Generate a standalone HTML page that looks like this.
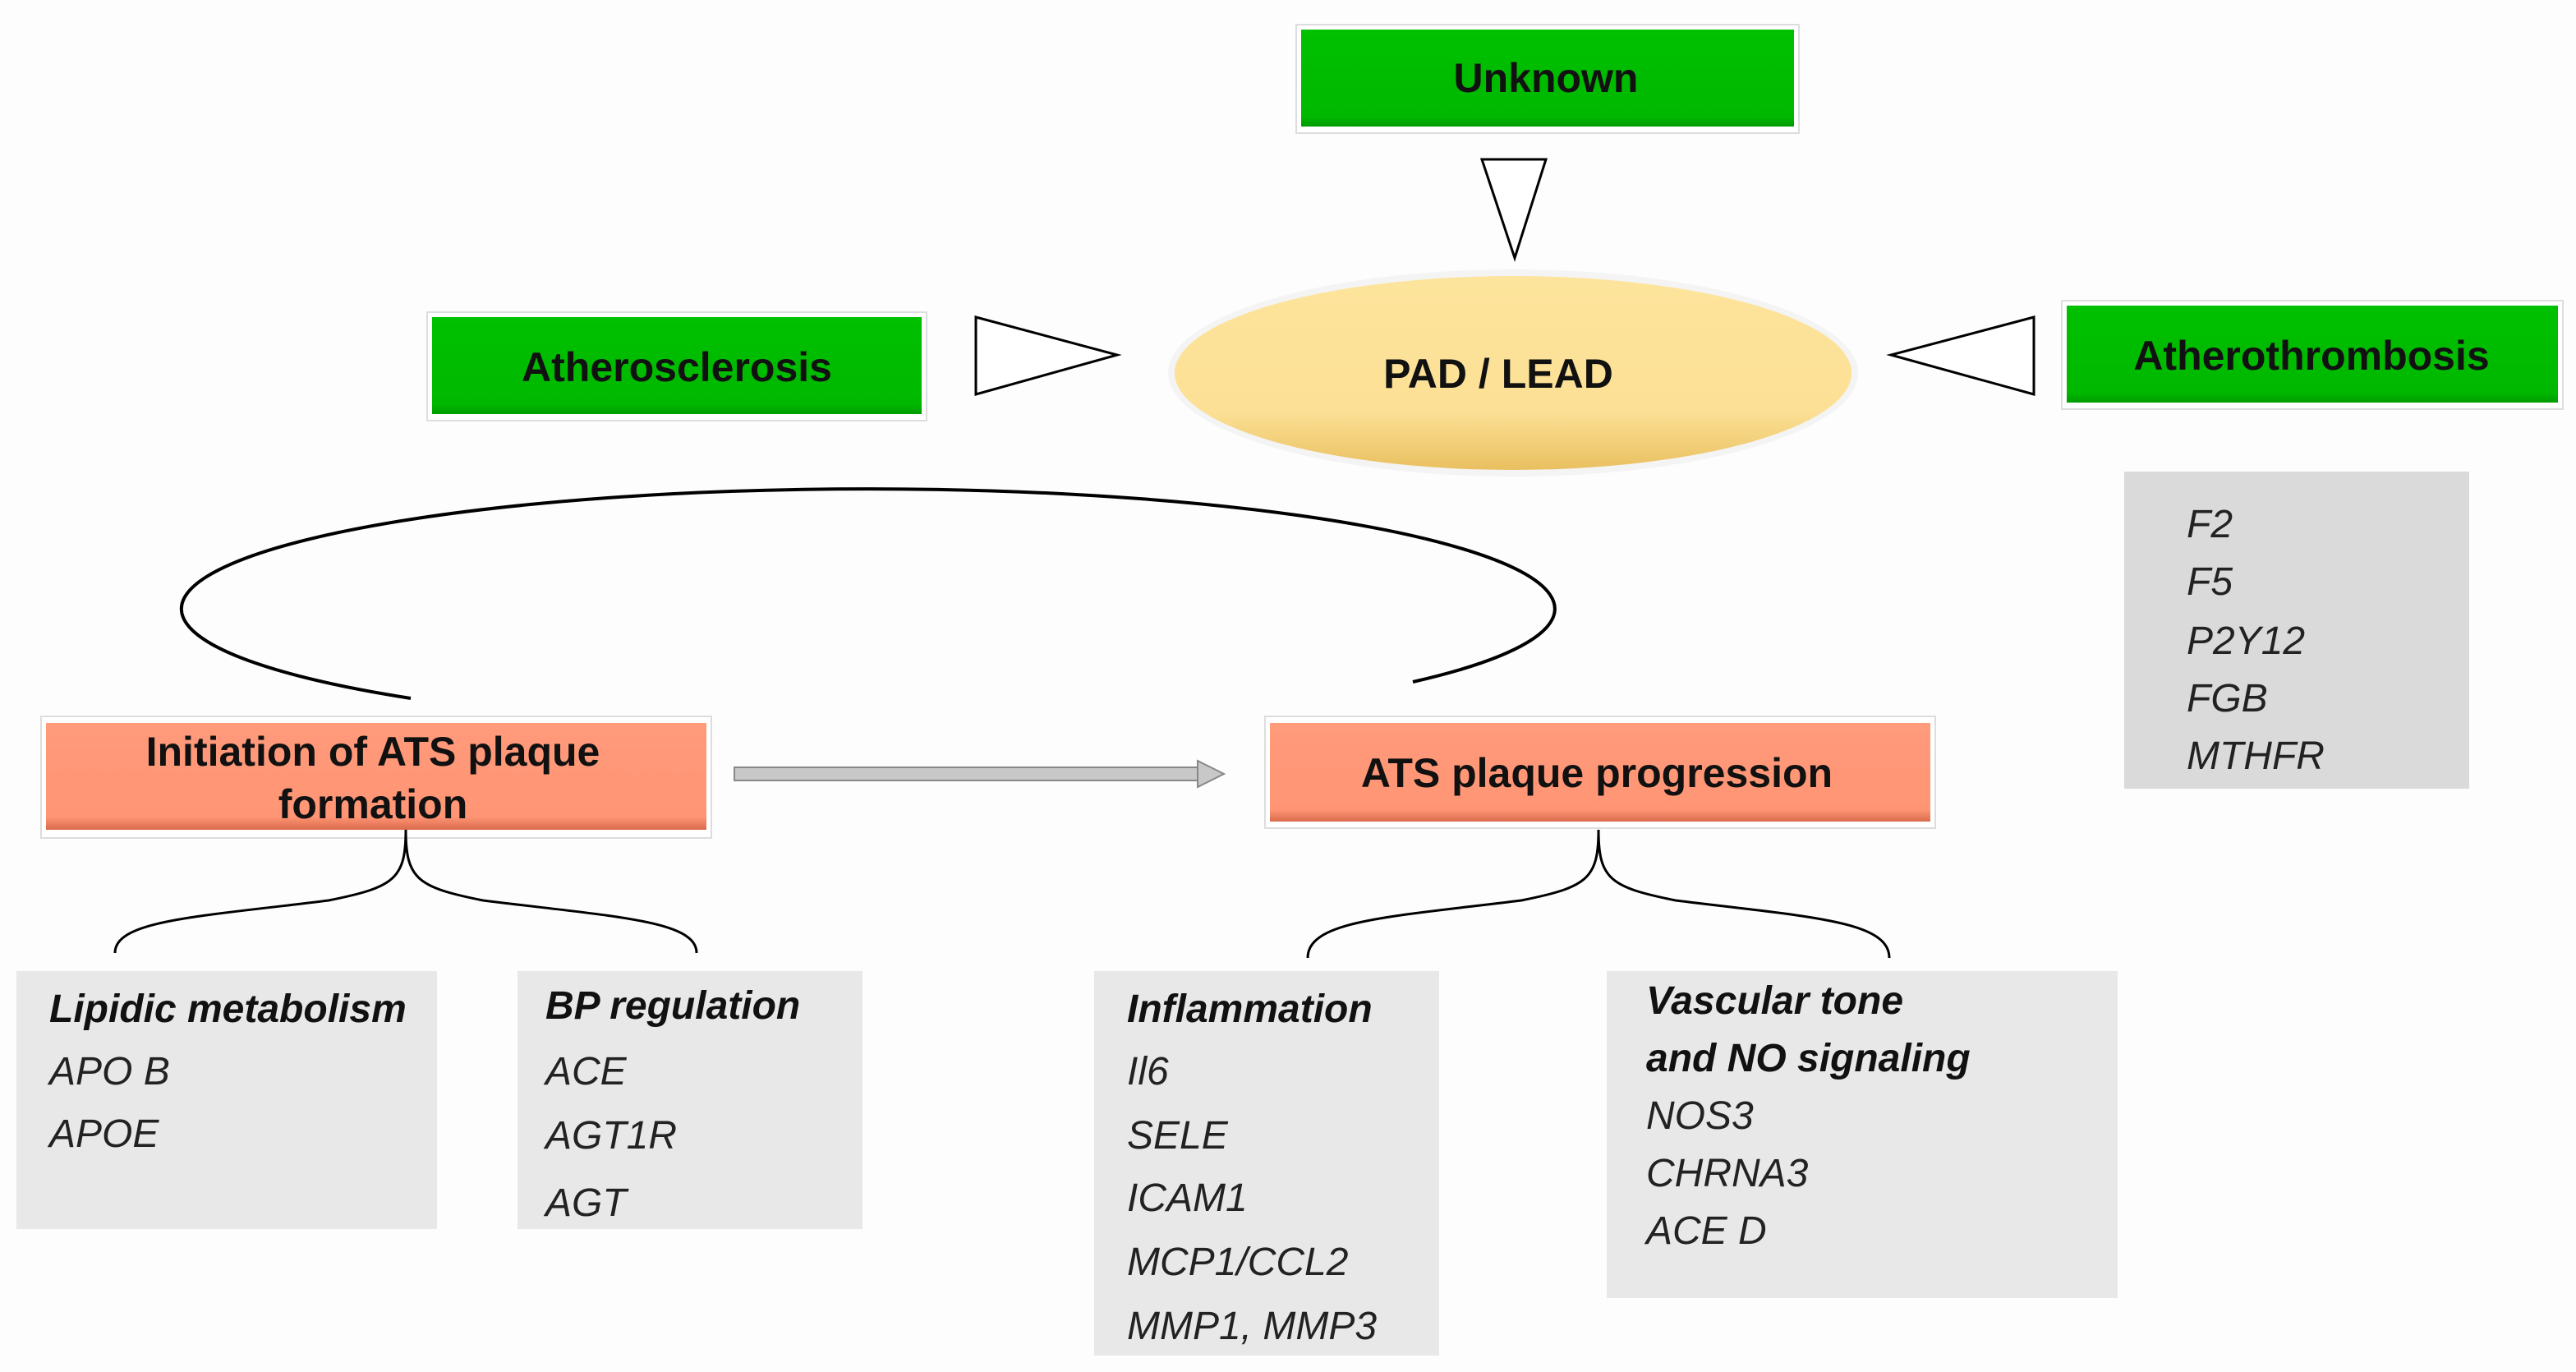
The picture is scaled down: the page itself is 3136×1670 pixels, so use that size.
<!DOCTYPE html>
<html><head><style>
html,body{margin:0;padding:0;background:#fff;}
svg{display:block;}
text{font-family:"Liberation Sans",Arial,sans-serif;}
.b{font-weight:bold;font-size:25px;fill:#111;}
.i{font-style:italic;font-size:24px;fill:#222;}
.bi{font-style:italic;font-weight:bold;font-size:24px;fill:#111;}
</style></head><body>
<svg width="3136" height="1670" viewBox="0 0 1568 835" xmlns="http://www.w3.org/2000/svg">
<defs>
<linearGradient id="g" x1="0" y1="0" x2="0" y2="1"><stop offset="0" stop-color="#00c000"/><stop offset="0.9" stop-color="#00b800"/><stop offset="1" stop-color="#009a00"/></linearGradient>
<linearGradient id="o" x1="0" y1="0" x2="0" y2="1"><stop offset="0" stop-color="#ff9a7a"/><stop offset="0.88" stop-color="#ff9575"/><stop offset="1" stop-color="#d86a4c"/></linearGradient>
<linearGradient id="y" x1="0" y1="0" x2="0" y2="1"><stop offset="0" stop-color="#fde49c"/><stop offset="0.7" stop-color="#fce095"/><stop offset="1" stop-color="#e9c060"/></linearGradient>
</defs>
<rect width="1568" height="835" fill="#fdfdfd"/>
<rect x="789" y="15" width="306" height="66" fill="#fff" stroke="#ddd"/>
<rect x="792" y="18" width="300" height="59" fill="url(#g)"/>
<text x="941" y="56" class="b" text-anchor="middle">Unknown</text>
<rect x="260" y="190" width="304" height="66" fill="#fff" stroke="#ddd"/>
<rect x="263" y="193" width="298" height="59" fill="url(#g)"/>
<text x="412" y="232" class="b" text-anchor="middle">Atherosclerosis</text>
<rect x="1255" y="183" width="305" height="66" fill="#fff" stroke="#ddd"/>
<rect x="1258" y="186" width="299" height="59" fill="url(#g)"/>
<text x="1407" y="225" class="b" text-anchor="middle">Atherothrombosis</text>
<polygon points="902,97 941,97 922,157" fill="#fff" stroke="#000" stroke-width="1.5"/>
<polygon points="594,193 594,240 680,216" fill="#fff" stroke="#000" stroke-width="1.5"/>
<polygon points="1238,193 1238,240 1151,216" fill="#fff" stroke="#000" stroke-width="1.5"/>
<ellipse cx="921" cy="227" rx="210" ry="63" fill="#f4f4f4"/>
<ellipse cx="921" cy="227" rx="206" ry="59" fill="url(#y)"/>
<text x="912" y="236" class="b" text-anchor="middle">PAD / LEAD</text>
<rect x="1293" y="287" width="210" height="193" fill="#dadada"/>
<text x="1331" y="327" class="i">F2</text>
<text x="1331" y="362" class="i">F5</text>
<text x="1331" y="398" class="i">P2Y12</text>
<text x="1331" y="433" class="i">FGB</text>
<text x="1331" y="468" class="i">MTHFR</text>
<path d="M250,425 A418,73 0 1 1 860,415" fill="none" stroke="#000" stroke-width="2"/>
<rect x="25" y="436" width="408" height="74" fill="#fff" stroke="#ddd"/>
<rect x="28" y="440" width="402" height="65" fill="url(#o)"/>
<text x="227" y="466" class="b" text-anchor="middle">Initiation of ATS plaque</text>
<text x="227" y="498" class="b" text-anchor="middle">formation</text>
<rect x="770" y="436" width="408" height="68" fill="#fff" stroke="#ddd"/>
<rect x="773" y="440" width="402" height="60" fill="url(#o)"/>
<text x="972" y="479" class="b" text-anchor="middle">ATS plaque progression</text>
<rect x="447" y="467" width="282" height="8" fill="#c8c8c8" stroke="#888" stroke-width="1"/>
<polygon points="729,463 745,471 729,479" fill="#c8c8c8" stroke="#888" stroke-width="1"/>
<path d="M247,505 C247,535 240,540 200,548 C120,558 70,560 70,580 M247,505 C247,535 254,540 294,548 C374,558 424,560 424,580" fill="none" stroke="#000" stroke-width="1.5"/>
<path d="M973,505 C973,535 966,540 926,548 C846,558 796,560 796,583 M973,505 C973,535 980,540 1020,548 C1100,558 1150,560 1150,583" fill="none" stroke="#000" stroke-width="1.5"/>
<rect x="10" y="591" width="256" height="157" fill="#e8e8e8"/>
<text x="30" y="622" class="bi">Lipidic metabolism</text>
<text x="30" y="660" class="i">APO B</text>
<text x="30" y="698" class="i">APOE</text>
<rect x="315" y="591" width="210" height="157" fill="#e8e8e8"/>
<text x="332" y="620" class="bi">BP regulation</text>
<text x="332" y="660" class="i">ACE</text>
<text x="332" y="699" class="i">AGT1R</text>
<text x="332" y="740" class="i">AGT</text>
<rect x="666" y="591" width="210" height="234" fill="#e8e8e8"/>
<text x="686" y="622" class="bi">Inflammation</text>
<text x="686" y="660" class="i">Il6</text>
<text x="686" y="699" class="i">SELE</text>
<text x="686" y="737" class="i">ICAM1</text>
<text x="686" y="776" class="i">MCP1/CCL2</text>
<text x="686" y="815" class="i">MMP1, MMP3</text>
<rect x="978" y="591" width="311" height="199" fill="#e8e8e8"/>
<text x="1002" y="617" class="bi">Vascular tone</text>
<text x="1002" y="652" class="bi">and NO signaling</text>
<text x="1002" y="687" class="i">NOS3</text>
<text x="1002" y="722" class="i">CHRNA3</text>
<text x="1002" y="757" class="i">ACE D</text>
</svg>
</body></html>
